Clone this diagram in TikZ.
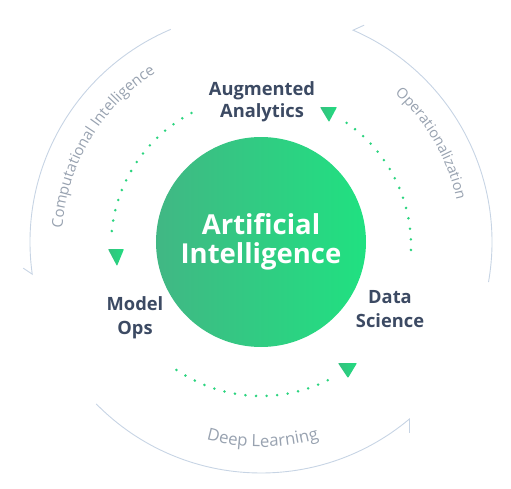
\documentclass[tikz,border=0pt]{standalone}
\usepackage{fontspec}
\setmainfont{Open Sans}
\usetikzlibrary{decorations.text}
\definecolor{gL}{HTML}{41B784}
\definecolor{gR}{HTML}{20E181}
\definecolor{lab}{HTML}{3C4A63}
\definecolor{arcc}{HTML}{C7D4E4}
\definecolor{otxt}{HTML}{98A2B0}
\definecolor{dotc}{HTML}{2BD47F}
\definecolor{triL}{HTML}{35C07F}
\definecolor{triR}{HTML}{22DC80}
\newcommand{\otfontA}{\fontsize{15}{15}\selectfont}
\newcommand{\otfontB}{\fontsize{14.5}{14.5}\selectfont}
\newcommand{\otfontC}{\fontsize{16.8}{16.8}\selectfont}
\begin{document}
\begin{tikzpicture}[x=1pt,y=1pt,
  outerarc/.style={draw=arcc, line width=0.9pt},
  dotarc/.style={draw=dotc, line width=2.8pt, line cap=round, dash pattern=on 0pt off 10.6pt},
  lbl/.style={text=lab, font=\bfseries\fontsize{18.3}{24}\selectfont, align=center, inner sep=0pt},
  tri/.style={left color=triL, right color=triR, draw=none, rounded corners=0.8pt},
  arctext/.style={decorate, decoration={text along path, text color=otxt, text align=center}},
  ]
\useasboundingbox (-261,-246) rectangle (250,242);

% central circle
\node[circle, minimum size=210pt, inner sep=0pt, left color=gL, right color=gR,
      text=white, font=\bfseries\fontsize{27.5}{29}\selectfont, align=center] (ai) at (0,0) {Artificial\\Intelligence};

% labels
\node[lbl, font=\bfseries\fontsize{18.3}{22}\selectfont] (aa) at (1,140.5) {Augmented\\Analytics};
\node[lbl] (mo) at (-126,-76) {Model\\Ops};
\node[lbl] (ds) at (129,-67) {Data\\Science};

% outer arcs with barbs
\draw[outerarc] (113:231) arc[start angle=113, end angle=188, radius=231] -- ++(-9,6);
\draw[outerarc] (-10:231) arc[start angle=-10, end angle=66.5, radius=231] -- ++(11,5);
\draw[outerarc] (224.5:231) arc[start angle=224.5, end angle=310, radius=231] -- ++(0,-14);

% outer arc texts
\path[arctext, decoration={text={|\otfontA|Computational Intelligence}}]
  (184:199) arc[start angle=184, end angle=114, radius=199];
\path[arctext, decoration={text={|\otfontB|Operationalization}}]
  (60:200) arc[start angle=60, end angle=0, radius=200];
\path[arctext, decoration={text={|\otfontC|Deep Learning}}]
  (240.5:205) arc[start angle=240.5, end angle=300.5, radius=205];

% dotted arcs
\draw[dotarc] ([shift={(0,-4)}]117.6:150) arc[start angle=117.6, end angle=177.3, radius=150];
\draw[dotarc] ([shift={(0,-4)}]-1.5:150) arc[start angle=-1.5, end angle=57.3, radius=150];
\draw[dotarc] ([shift={(0,-4)}]235.7:150) arc[start angle=235.7, end angle=298.8, radius=150];

% triangle heads
\shade[tri] (-153,-7) -- (-137,-7) -- (-144,-24) -- cycle;
\shade[tri] (59,135) -- (76,135) -- (68,120) -- cycle;
\shade[tri] (77,-121) -- (96,-121) -- (87,-136) -- cycle;
\end{tikzpicture}
\end{document}
